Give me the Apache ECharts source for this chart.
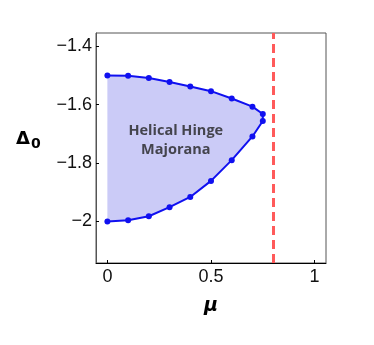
<!DOCTYPE html>
<html>
<head>
<meta charset="utf-8">
<script src="https://cdn.jsdelivr.net/npm/echarts@6/dist/echarts.min.js"></script>
<style>
  html, body { margin: 0; padding: 0; background: #fff; }
  #chart { width: 374px; height: 345px; }
</style>
</head>
<body>
<div id="chart"></div>
<script>
// phase boundary
var muUpper = [0, 0.1, 0.2, 0.3, 0.4, 0.5, 0.6, 0.7, 0.75];
var deltaUpper = [-1.5, -1.501, -1.509, -1.523, -1.538, -1.554, -1.579, -1.607, -1.632];
var muLower = [0.75, 0.7, 0.6, 0.5, 0.4, 0.3, 0.2, 0.1, 0];
var deltaLower = [-1.656, -1.709, -1.79, -1.861, -1.916, -1.951, -1.982, -1.996, -2.0];
var muCritical = 0.8;
var xTicks = [0, 0.5, 1];
var yTicks = [-1.4, -1.6, -1.8, -2];
var regionLabel = { mu: 0.33, delta: -1.722, text: 'Helical Hinge\nMajorana' };

var boundary = [];
muUpper.forEach(function (m, i) { boundary.push([m, deltaUpper[i]]); });
muLower.forEach(function (m, i) { boundary.push([m, deltaLower[i]]); });

var chart = echarts.init(document.getElementById('chart'));

function fmt(v) {
    return String(v).replace('-', '\u2212');
}

var option = {
    animation: false,
    grid: { left: 96, right: 48, top: 33, bottom: 82, show: true, borderColor: '#555', borderWidth: 1 },
    xAxis: {
        type: 'value', min: -0.055, max: 1.055,
        name: 'μ', nameLocation: 'middle', nameGap: 34,
        nameTextStyle: { fontFamily: 'DejaVu Sans', fontWeight: 'bold', fontStyle: 'italic', fontSize: 19, color: '#000' },
        axisLine: { show: true, onZero: false, lineStyle: { color: '#000', width: 1 } },
        axisTick: { show: true, inside: true, length: 3, lineStyle: { color: '#000' }, customValues: xTicks },
        axisLabel: { fontFamily: 'Liberation Sans', fontSize: 18, color: '#111', margin: 5, customValues: xTicks,
            formatter: function (v) { return fmt(v); } },
        splitLine: { show: false }
    },
    yAxis: {
        type: 'value', min: -2.142, max: -1.355,
        axisLine: { show: true, onZero: false, lineStyle: { color: '#555', width: 1 } },
        axisTick: { show: true, inside: true, length: 3, lineStyle: { color: '#000' }, customValues: yTicks },
        axisLabel: { fontFamily: 'Liberation Sans', fontSize: 18, color: '#111', margin: 4, customValues: yTicks,
            formatter: function (v) { return fmt(v); } },
        splitLine: { show: false }
    },
    graphic: [{
        type: 'text', left: 16, top: 130,
        style: {
            rich: {
                d: { fontFamily: 'DejaVu Sans', fontWeight: 'bold', fontSize: 18, fill: '#000' },
                s: { fontFamily: 'DejaVu Sans', fontWeight: 'bold', fontSize: 14, fill: '#000', verticalAlign: 'bottom', padding: [10, 0, 0, 1] }
            },
            text: '{d|Δ}{s|0}'
        }
    }],
    series: [
        {
            type: 'custom',
            silent: true,
            z: 1,
            renderItem: function (params, api) {
                if (params.dataIndex !== 0) return;
                var pts = boundary.map(function (p) { return api.coord(p); });
                return { type: 'polygon', shape: { points: pts }, style: { fill: '#cbcbf7' } };
            },
            data: boundary
        },
        {
            type: 'line',
            data: boundary,
            z: 3,
            lineStyle: { color: '#1010f0', width: 2 },
            itemStyle: { color: '#1010f0' },
            symbol: 'circle', symbolSize: 6,
            markLine: {
                silent: true, symbol: 'none', label: { show: false },
                lineStyle: { color: '#ff5a5a', width: 3, type: [9, 5] },
                data: [{ xAxis: muCritical }]
            }
        },
        {
            type: 'scatter',
            data: [[regionLabel.mu, regionLabel.delta]],
            symbolSize: 0,
            z: 4,
            label: {
                show: true, position: 'inside',
                formatter: regionLabel.text,
                fontFamily: 'Open Sans', fontWeight: 'bold', fontSize: 14.5, lineHeight: 19, color: '#222'
            }
        }
    ]
};
chart.setOption(option);
window.addEventListener('resize', function () { chart.resize(); });
</script>
</body>
</html>
